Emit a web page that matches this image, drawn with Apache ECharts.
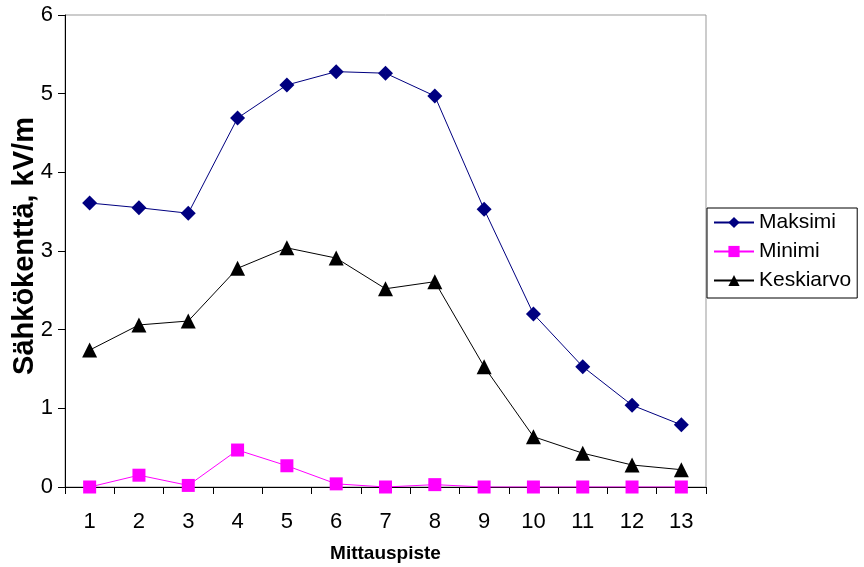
<!DOCTYPE html>
<html>
<head>
<meta charset="utf-8">
<script src="https://cdn.jsdelivr.net/npm/echarts@6/dist/echarts.min.js"></script>
<style>
  html, body { margin: 0; padding: 0; background: #fff; }
  #chart { width: 864px; height: 567px; }
</style>
</head>
<body>
<div id="chart"></div>
<script>
// Measurement points along the route
const categories = ['1','2','3','4','5','6','7','8','9','10','11','12','13'];
// Electric field strength, kV/m
const maksimi   = [3.61, 3.55, 3.48, 4.69, 5.11, 5.28, 5.26, 4.97, 3.53, 2.20, 1.53, 1.04, 0.79];
const minimi    = [0.00, 0.15, 0.02, 0.47, 0.27, 0.04, 0.00, 0.03, 0.00, 0.00, 0.00, 0.00, 0.00];
const keskiarvo = [1.74, 2.06, 2.11, 2.78, 3.04, 2.91, 2.52, 2.61, 1.53, 0.64, 0.43, 0.28, 0.22];
const yTitle = 'Sähkökenttä, kV/m';

const FONT = '"Liberation Sans", Arial, sans-serif';

const chart = echarts.init(document.getElementById('chart'));
chart.setOption({
  animation: false,
  backgroundColor: '#ffffff',
  textStyle: { fontFamily: FONT },
  grid: {
    left: 65, top: 15, width: 641, height: 472,
    containLabel: false,
    outerBoundsMode: 'none',
    show: true, borderColor: '#999999', borderWidth: 1, backgroundColor: '#ffffff'
  },
  // vertical value-axis title
  graphic: [{
    type: 'text',
    x: 25, y: 246,
    rotation: Math.PI / 2,
    style: {
      text: yTitle,
      font: 'bold 29px ' + FONT,
      fill: '#000',
      align: 'center',
      verticalAlign: 'middle'
    }
  }],
  legend: {
    orient: 'vertical',
    left: 707, top: 208,
    padding: [4, 6, 7, 6],
    itemGap: 8,
    itemWidth: 40, itemHeight: 14,
    borderColor: '#000', borderWidth: 1,
    textStyle: { fontFamily: FONT, fontSize: 21, color: '#000' },
    data: ['Maksimi', 'Minimi', 'Keskiarvo']
  },
  xAxis: {
    type: 'category',
    data: categories,
    boundaryGap: true,
    name: 'Mittauspiste',
    nameLocation: 'middle',
    nameGap: 57,
    nameTextStyle: { fontFamily: FONT, fontSize: 19, fontWeight: 'bold', color: '#000' },
    axisLine: { lineStyle: { color: '#000', width: 1 } },
    axisTick: { show: true, length: 7, lineStyle: { color: '#000' } },
    axisLabel: { fontFamily: FONT, fontSize: 22, color: '#000', margin: 24 },
    splitLine: { show: false }
  },
  yAxis: {
    type: 'value',
    min: 0, max: 6, interval: 1,
    axisLine: { show: true, lineStyle: { color: '#000', width: 1 } },
    axisTick: { show: true, length: 7, lineStyle: { color: '#000' } },
    axisLabel: { fontFamily: FONT, fontSize: 22, color: '#000', margin: 12 },
    splitLine: { show: false }
  },
  series: [
    {
      name: 'Maksimi', type: 'line', data: maksimi,
      symbol: 'diamond', symbolSize: 15,
      itemStyle: { color: '#000080' },
      lineStyle: { color: '#000080', width: 1 },
      z: 3
    },
    {
      name: 'Minimi', type: 'line', data: minimi,
      symbol: 'rect', symbolSize: 13,
      itemStyle: { color: '#ff00ff' },
      lineStyle: { color: '#ff00ff', width: 1 },
      z: 2
    },
    {
      name: 'Keskiarvo', type: 'line', data: keskiarvo,
      symbol: 'triangle', symbolSize: 15,
      itemStyle: { color: '#000000' },
      lineStyle: { color: '#000000', width: 1 },
      z: 4
    }
  ]
});
</script>
</body>
</html>
